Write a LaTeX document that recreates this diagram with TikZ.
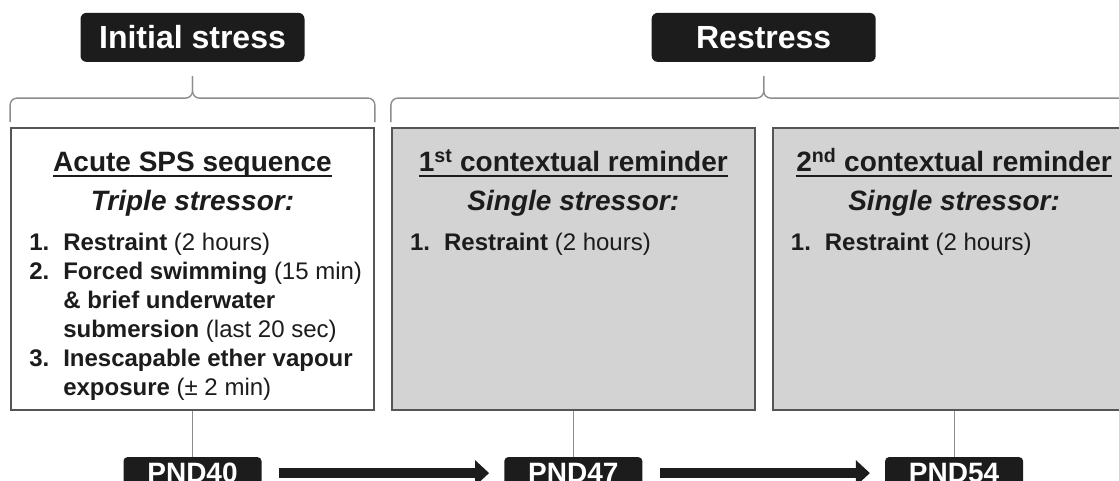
\documentclass[tikz,border=0pt]{standalone}
\usepackage{fontspec}
\setmainfont{Liberation Sans}
\usetikzlibrary{positioning,calc,arrows.meta}
\definecolor{boxgray}{RGB}{211,211,211}
\definecolor{ink}{RGB}{28,28,28}
\definecolor{edgegray}{RGB}{85,85,85}
\definecolor{linegray}{RGB}{140,140,140}
\newcommand{\underhead}[1]{\setbox0\hbox{#1}\rlap{\rule[-6pt]{\wd0}{2pt}}\box0}
\newcommand{\itemno}[1]{\makebox[34pt][l]{\textbf{#1}}}
\begin{document}
\begin{tikzpicture}[x=1pt, y=1pt,
    stagelabel/.style={fill=ink, text=white, rounded corners=6pt, minimum width=224pt, minimum height=49pt, inner sep=0pt, font=\fontsize{32}{32}\selectfont\bfseries},
    stagebox/.style={draw=edgegray, line width=1.8pt, minimum width=363pt, minimum height=282pt, inner sep=0pt},
    graybox/.style={stagebox, fill=boxgray},
    boxhead/.style={anchor=base, inner sep=0pt, text=ink, font=\fontsize{28}{28}\selectfont\bfseries},
    boxsub/.style={anchor=base, inner sep=0pt, text=ink, font=\fontsize{28}{28}\selectfont\bfseries\itshape},
    boxlist/.style={anchor=base west, inner sep=0pt, text=ink, font=\fontsize{24}{29}\selectfont},
    dayflag/.style={fill=ink, text=white, rounded corners=4pt, minimum width=138pt, minimum height=32pt, inner sep=0pt, font=\fontsize{28}{28}\selectfont\bfseries},
    bracket/.style={draw=linegray, line width=1.4pt, rounded corners=7pt},
    link/.style={draw=linegray, line width=1.2pt},
    timearrow/.style={draw=ink, line width=10pt, -{Triangle[length=14pt,width=25pt]}, shorten <=17pt, shorten >=15pt}]
    \useasboundingbox (0,0) rectangle (1119,481);
    \clip (0,0) rectangle (1119,481);

    % Draw boxes
    \node[stagebox, fill=white] (sps) at (192.5,212) {};
    \node[graybox, right=16pt of sps] (rem1) {};
    \node[graybox, right=16pt of rem1] (rem2) {};

    % Box texts
    \node[boxhead] (hsps) at ([yshift=-44pt]sps.north) {\underhead{Acute SPS sequence}};
    \node[boxsub] (ssps) at ([yshift=-83pt]sps.north) {Triple stressor:};
    \node[boxlist] (lsps) at ([xshift=19pt,yshift=-123pt]sps.north west) {\vtop{%
        \hbox{\itemno{1.}\textbf{Restraint} (2 hours)}
        \hbox{\itemno{2.}\textbf{Forced swimming} (15 min)}
        \hbox{\itemno{}\textbf{\& brief underwater}}
        \hbox{\itemno{}\textbf{submersion} (last 20 sec)}
        \hbox{\itemno{3.}\textbf{Inescapable ether vapour}}
        \hbox{\itemno{}\textbf{exposure} (± 2 min)}}};

    \node[boxhead] (hrem1) at ([yshift=-44pt]rem1.north) {\underhead{1\textsuperscript{st} contextual reminder}};
    \node[boxsub] (srem1) at ([yshift=-83pt]rem1.north) {Single stressor:};
    \node[boxlist] (lrem1) at ([xshift=19pt,yshift=-123pt]rem1.north west) {\itemno{1.}\textbf{Restraint} (2 hours)};

    \node[boxhead] (hrem2) at ([yshift=-44pt]rem2.north) {\underhead{2\textsuperscript{nd} contextual reminder}};
    \node[boxsub] (srem2) at ([yshift=-83pt]rem2.north) {Single stressor:};
    \node[boxlist] (lrem2) at ([xshift=19pt,yshift=-123pt]rem2.north west) {\itemno{1.}\textbf{Restraint} (2 hours)};

    % Stage labels and braces
    \coordinate (tipA) at ([yshift=51pt]sps.north);
    \coordinate (tipB) at ([yshift=51pt]$(rem1.north west)!0.5!(rem2.north east)$);
    \node[stagelabel, above=14pt of tipA] (init) {Initial stress};
    \node[stagelabel, above=14pt of tipB] (restress) {Restress};

    \draw[bracket] ([yshift=5pt]sps.north west) |- ([yshift=-22pt]tipA) -- (tipA);
    \draw[bracket] ([yshift=5pt]sps.north east) |- ([yshift=-22pt]tipA) -- (tipA);
    \draw[bracket] ([yshift=5pt]rem1.north west) |- ([yshift=-22pt]tipB) -- (tipB);
    \draw[bracket] ([yshift=5pt]rem2.north east) |- ([yshift=-22pt]tipB) -- (tipB);

    % Draw time line
    \node[dayflag, below=46pt of sps] (pnd40) {PND40};
    \node[dayflag, below=46pt of rem1] (pnd47) {PND47};
    \node[dayflag, below=46pt of rem2] (pnd54) {PND54};

    \draw[link] (sps) -- (pnd40);
    \draw[link] (rem1) -- (pnd47);
    \draw[link] (rem2) -- (pnd54);

    \draw[timearrow] (pnd40) -- (pnd47);
    \draw[timearrow] (pnd47) -- (pnd54);
\end{tikzpicture}
\end{document}
